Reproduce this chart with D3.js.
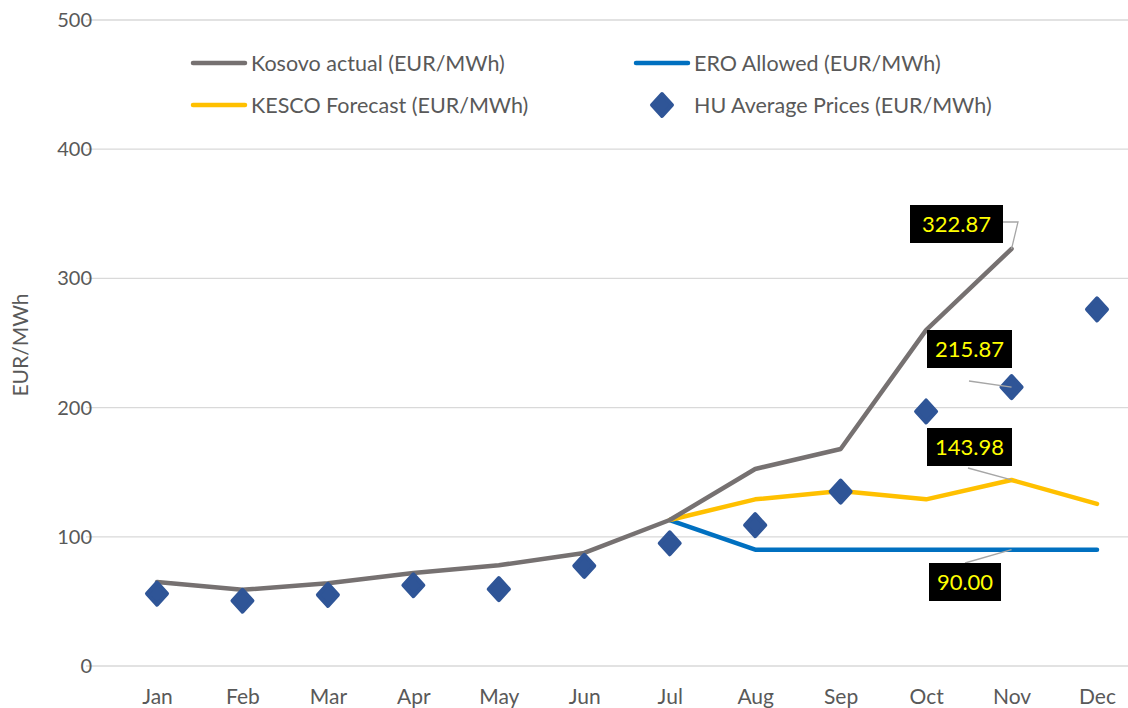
<!DOCTYPE html>
<html>
<head>
<meta charset="utf-8">
<script src="https://cdn.jsdelivr.net/npm/d3@7"></script>
<style>
  body { margin: 0; background: #fff; }
  svg { font-family: Lato, "Open Sans", sans-serif; }
</style>
</head>
<body>
<div id="chart"></div>
<script>
// data
const months = ["Jan", "Feb", "Mar", "Apr", "May", "Jun", "Jul", "Aug", "Sep", "Oct", "Nov", "Dec"];
const kosovoActual = [65, 59, 64, 72, 78, 87.5, 113, 152.5, 168, 260, 322.87, null];
const eroAllowed = [null, null, null, null, null, null, 113, 90, 90, 90, 90, 90];
const kescoForecast = [null, null, null, null, null, null, 113, 129, 135.5, 129, 143.98, 125.5];
const huAverage = [56, 50.5, 55, 62.5, 59.5, 77.5, 95, 109, 135, 197, 215.87, 276];
const yTicks = [0, 100, 200, 300, 400, 500];

const width = 1128, height = 708;

const svg = d3.select("#chart")
  .append("svg")
    .attr("width", width)
    .attr("height", height);

const x = d3.scalePoint().domain(months).range([157, 1097]);
const y = d3.scaleLinear().domain([0, 500]).range([666, 20]);

// gridlines
svg.append("g")
  .selectAll("line")
  .data(yTicks)
  .enter().append("line")
    .attr("x1", 86).attr("x2", width)
    .attr("y1", d => y(d)).attr("y2", d => y(d))
    .attr("stroke", "#d9d9d9")
    .attr("stroke-width", 1.3);

// y axis labels
const yAxis = svg.append("g")
  .attr("transform", "translate(92,0)")
  .call(d3.axisLeft(y).tickValues(yTicks).tickSize(0).tickPadding(0));
yAxis.select(".domain").remove();
yAxis.selectAll("text")
  .attr("font-size", 20)
  .attr("fill", "#595959")
  .attr("font-family", "Lato, sans-serif");

// x axis labels
const xAxis = svg.append("g")
  .attr("transform", "translate(0,689)")
  .call(d3.axisBottom(x).tickSize(0).tickPadding(0));
xAxis.select(".domain").remove();
xAxis.selectAll("text")
  .attr("font-size", 21)
  .attr("fill", "#595959")
  .attr("font-family", "Lato, sans-serif");

// axis title
svg.append("text")
  .attr("transform", "translate(28,345) rotate(-90)")
  .attr("text-anchor", "middle")
  .attr("font-size", 21)
  .attr("fill", "#595959")
  .text("EUR/MWh");

const line = d3.line()
  .defined(d => d != null)
  .x((d, i) => x(months[i]))
  .y(d => y(d));

const series = [
  { values: eroAllowed, color: "#0070C0" },
  { values: kescoForecast, color: "#FFC000" },
  { values: kosovoActual, color: "#767171" }
];

series.forEach(s => {
  svg.append("path")
    .datum(s.values)
    .attr("fill", "none")
    .attr("stroke", s.color)
    .attr("stroke-width", 4.5)
    .attr("stroke-linejoin", "round")
    .attr("stroke-linecap", "round")
    .attr("d", line);
});

// diamonds
const diamond = "M0,-11 L10,0 L0,11 L-10,0 Z";
svg.append("g")
  .selectAll("path")
  .data(huAverage)
  .enter().append("path")
    .attr("transform", (d, i) => "translate(" + x(months[i]) + "," + y(d) + ")")
    .attr("d", diamond)
    .attr("fill", "#2F5597")
    .attr("stroke", "#2F5597")
    .attr("stroke-width", 4)
    .attr("stroke-linejoin", "round");

// data labels with leader lines
const labels = [
  { month: "Nov", value: kosovoActual[10], bx: 910, by: 205, bw: 93, lead: [[1003, 222], [1018, 222]] },
  { month: "Nov", value: huAverage[10], bx: 927, by: 330, bw: 85, lead: [[969, 381]] },
  { month: "Nov", value: kescoForecast[10], bx: 927, by: 428, bw: 85, lead: [[968, 468]] },
  { month: "Nov", value: eroAllowed[10], bx: 929, by: 563, bw: 72, lead: [[965, 563]] }
];

labels.forEach(l => {
  const pts = l.lead.concat([[x(l.month), y(l.value)]]);
  svg.append("path")
    .attr("d", d3.line()(pts))
    .attr("fill", "none")
    .attr("stroke", "#a6a6a6")
    .attr("stroke-width", 1.3);
  svg.append("rect")
    .attr("x", l.bx).attr("y", l.by)
    .attr("width", l.bw).attr("height", 38)
    .attr("fill", "#000");
  svg.append("text")
    .attr("x", l.bx + l.bw / 2)
    .attr("y", l.by + 19)
    .attr("dy", "0.35em")
    .attr("text-anchor", "middle")
    .attr("font-size", 22)
    .attr("fill", "#FFFF00")
    .text(d3.format(".2f")(l.value));
});

// legend
const legend = [
  { name: "Kosovo actual (EUR/MWh)", color: "#767171", type: "line", lx: 193, ly: 63 },
  { name: "ERO Allowed (EUR/MWh)", color: "#0070C0", type: "line", lx: 636, ly: 63 },
  { name: "KESCO Forecast (EUR/MWh)", color: "#FFC000", type: "line", lx: 193, ly: 105 },
  { name: "HU Average Prices (EUR/MWh)", color: "#2F5597", type: "diamond", lx: 636, ly: 105 }
];

legend.forEach(l => {
  if (l.type === "line") {
    svg.append("line")
      .attr("x1", l.lx).attr("x2", l.lx + 52)
      .attr("y1", l.ly).attr("y2", l.ly)
      .attr("stroke", l.color)
      .attr("stroke-width", 4.5)
      .attr("stroke-linecap", "round");
  } else {
    svg.append("path")
      .attr("transform", "translate(" + (l.lx + 26) + "," + l.ly + ")")
      .attr("d", diamond)
      .attr("fill", l.color)
      .attr("stroke", l.color)
      .attr("stroke-width", 4)
      .attr("stroke-linejoin", "round");
  }
  svg.append("text")
    .attr("x", l.lx + 58)
    .attr("y", l.ly)
    .attr("dy", "0.35em")
    .attr("font-size", 21.5)
    .attr("fill", "#595959")
    .text(l.name);
});
</script>
</body>
</html>
